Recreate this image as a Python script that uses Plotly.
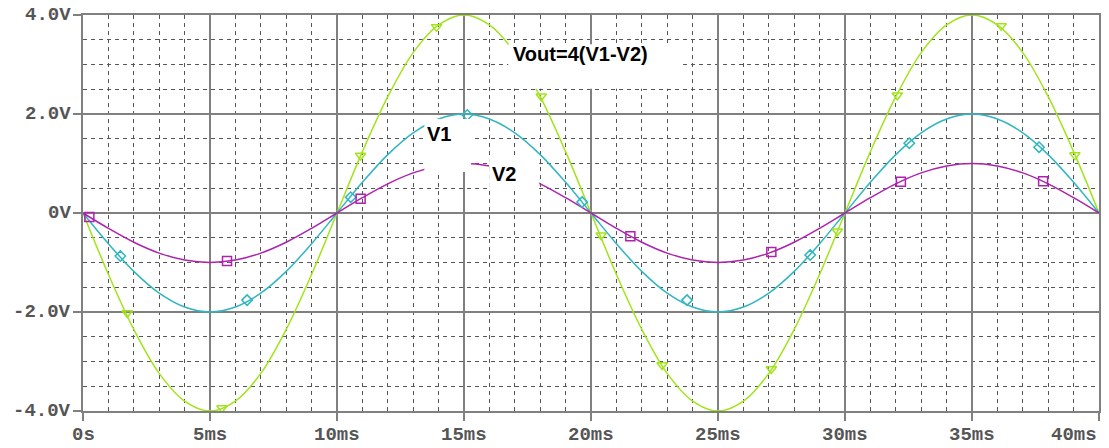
import plotly.graph_objects as go

# Transient sweep, 1 ms steps (ms)
time_ms = list(range(0, 41))

# Input V1 (V)
v1 = [0.00, -0.62, -1.18, -1.62, -1.90, -2.00, -1.90, -1.62, -1.18, -0.62,
      0.00, 0.62, 1.18, 1.62, 1.90, 2.00, 1.90, 1.62, 1.18, 0.62,
      0.00, -0.62, -1.18, -1.62, -1.90, -2.00, -1.90, -1.62, -1.18, -0.62,
      0.00, 0.62, 1.18, 1.62, 1.90, 2.00, 1.90, 1.62, 1.18, 0.62, 0.00]

# Input V2 (V)
v2 = [0.00, -0.31, -0.59, -0.81, -0.95, -1.00, -0.95, -0.81, -0.59, -0.31,
      0.00, 0.31, 0.59, 0.81, 0.95, 1.00, 0.95, 0.81, 0.59, 0.31,
      0.00, -0.31, -0.59, -0.81, -0.95, -1.00, -0.95, -0.81, -0.59, -0.31,
      0.00, 0.31, 0.59, 0.81, 0.95, 1.00, 0.95, 0.81, 0.59, 0.31, 0.00]

# Output Vout = 4(V1-V2) (V)
vout = [0.00, -1.24, -2.35, -3.24, -3.80, -4.00, -3.80, -3.24, -2.35, -1.24,
        0.00, 1.24, 2.35, 3.24, 3.80, 4.00, 3.80, 3.24, 2.35, 1.24,
        0.00, -1.24, -2.35, -3.24, -3.80, -4.00, -3.80, -3.24, -2.35, -1.24,
        0.00, 1.24, 2.35, 3.24, 3.80, 4.00, 3.80, 3.24, 2.35, 1.24, 0.00]

# Trace symbols placed along each waveform
vout_mk_t = [1.74, 5.47, 10.93, 13.92, 18.04, 20.40, 22.80, 27.10, 29.70, 32.06, 36.15, 39.05]
vout_mk_v = [-2.02, -3.94, 1.16, 3.76, 2.36, -0.45, -3.07, -3.15, -0.37, 2.38, 3.78, 1.17]
v1_mk_t = [1.47, 6.46, 10.54, 15.13, 19.65, 23.78, 28.63, 32.53, 37.64]
v1_mk_v = [-0.87, -1.76, 0.32, 1.98, 0.22, -1.76, -0.85, 1.41, 1.33]
v2_mk_t = [0.25, 5.67, 10.93, 21.55, 27.10, 32.20, 37.80]
v2_mk_v = [-0.08, -0.97, 0.29, -0.47, -0.79, 0.63, 0.64]

# Axis tick labels
x_ticks = [0, 5, 10, 15, 20, 25, 30, 35, 40]
x_tick_text = ["0s", "5ms", "10ms", "15ms", "20ms", "25ms", "30ms", "35ms", "40ms"]
y_ticks = [4, 2, 0, -2, -4]
y_tick_text = ["4.0V", "2.0V", "0V", "-2.0V", "-4.0V"]

C_VOUT = "#a2e41c"
C_V1 = "#2fb6c0"
C_V2 = "#ae22ae"

fig = go.Figure()

for name, ys, col in [("Vout", vout, C_VOUT), ("V1", v1, C_V1), ("V2", v2, C_V2)]:
    fig.add_trace(go.Scatter(x=time_ms, y=ys, mode="lines", name=name,
                             line=dict(color=col, width=1.5, shape="spline"),
                             hoverinfo="skip"))

for mt, mv, col, sym, sz in [(vout_mk_t, vout_mk_v, C_VOUT, "triangle-down-open", 9),
                             (v1_mk_t, v1_mk_v, C_V1, "diamond-open", 8),
                             (v2_mk_t, v2_mk_v, C_V2, "square-open", 9)]:
    fig.add_trace(go.Scatter(x=mt, y=mv, mode="markers",
                             marker=dict(symbol=sym, size=sz, color=col,
                                         line=dict(color=col, width=1.5)),
                             hoverinfo="skip"))

# White label backgrounds
label_boxes = [
    (16.74, 23.54, 2.51, 3.41),
    (13.44, 15.28, 0.83, 1.90),
    (15.99, 17.96, 0.48, 1.13),
]
for x0, x1, y0, y1 in label_boxes:
    fig.add_shape(type="rect", xref="x", yref="y", x0=x0, x1=x1, y0=y0, y1=y1,
                  fillcolor="white", line=dict(width=0), layer="above")

label_font = dict(family="Liberation Sans, Arial", size=20, color="black")
for txt, tx, ty in [("<b>Vout=4(V1-V2)</b>", 16.85, 3.21),
                    ("<b>V1</b>", 13.47, 1.59),
                    ("<b>V2</b>", 16.02, 0.78)]:
    fig.add_annotation(x=tx, y=ty, xref="x", yref="y", text=txt, showarrow=False,
                       xanchor="left", yanchor="middle", font=label_font)

tick_font = dict(family="Liberation Mono, DejaVu Sans Mono", size=19, color="#555555")
for xv, xt in zip(x_ticks, x_tick_text):
    fig.add_annotation(x=xv, y=0, xref="x", yref="paper", text="<b>%s</b>" % xt,
                       showarrow=False, xanchor="right" if xv == 40 else "center",
                       yanchor="top", yshift=-11, font=tick_font)
for yv, yt in zip(y_ticks, y_tick_text):
    fig.add_annotation(x=0, y=yv, xref="paper", yref="y", text="<b>%s</b>" % yt,
                       showarrow=False, xanchor="right", yanchor="middle",
                       xshift=-10, font=tick_font)

axis_common = dict(showline=True, mirror=True, linecolor="#808080", linewidth=2,
                   showgrid=True, gridcolor="#808080", gridwidth=2,
                   zeroline=False, showticklabels=False,
                   ticks="outside", ticklen=8, tickwidth=2, tickcolor="#808080")

fig.update_xaxes(range=[0, 40], dtick=5, tick0=0,
                 minor=dict(dtick=1, showgrid=True, gridcolor="#555555",
                            griddash="4px,4px", gridwidth=1, ticks=""),
                 **axis_common)
fig.update_yaxes(range=[-4, 4], dtick=2, tick0=0,
                 minor=dict(dtick=0.5, showgrid=True, gridcolor="#555555",
                            griddash="4px,4px", gridwidth=1, ticks=""),
                 **axis_common)

fig.update_layout(width=1109, height=448, showlegend=False,
                  margin=dict(l=83, r=8, t=15, b=37),
                  plot_bgcolor="white", paper_bgcolor="white")

fig.write_html("out.html")
